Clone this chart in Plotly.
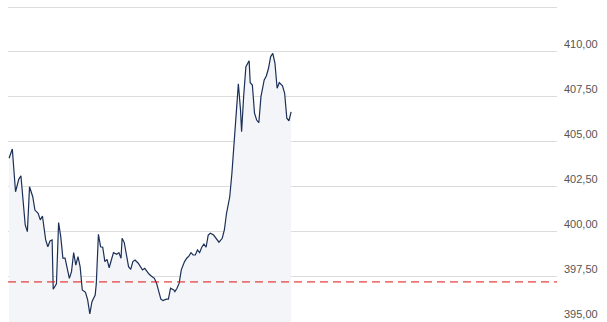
import plotly.graph_objects as go

# minutes since session open
minutes = [1, 4, 7, 10, 12, 14, 16, 18, 20, 23, 25, 28, 30, 32, 35, 37, 39, 41, 42, 45,
           47, 49, 51, 53, 57, 59, 61, 63, 65, 67, 69, 72, 74, 76, 78, 81, 82, 84, 86, 88,
           90, 92, 94, 96, 98, 101, 103, 105, 106, 108, 110, 112, 114, 116, 118, 121, 123, 125, 127, 129,
           131, 133, 136, 138, 140, 142, 144, 147, 149, 151, 154, 155, 157, 159, 161, 164, 166, 168, 170, 172,
           174, 176, 178, 180, 182, 184, 186, 188, 191, 193, 196, 199, 201, 203, 206, 208, 210, 212, 214, 216,
           217, 219, 221, 224, 225, 227, 229, 231, 233, 235, 238, 240, 242, 244, 246, 248, 250, 252, 255, 257,
           259, 261, 263]
prices = [404.08, 404.60, 402.22, 402.91, 403.11, 401.58, 400.37, 400.00, 402.50, 401.94,
          401.20, 401.02, 400.65, 400.87, 399.54, 399.16, 399.48, 399.54, 396.79, 397.09,
          400.50, 399.72, 398.52, 398.52, 397.40, 397.77, 398.83, 398.14, 398.61, 398.05,
          396.75, 396.62, 396.20, 395.42, 396.10, 396.47, 397.09, 399.85, 399.16, 399.13,
          398.33, 398.46, 397.99, 398.42, 398.83, 398.74, 398.83, 398.52, 399.63, 399.39,
          398.64, 398.05, 397.90, 398.33, 398.42, 398.24, 398.05, 397.87, 397.96, 397.77,
          397.64, 397.53, 397.40, 397.13, 396.75, 396.24, 396.16, 396.24, 396.24, 396.85,
          396.75, 396.66, 396.85, 397.13, 397.87, 398.33, 398.52, 398.64, 398.83, 398.70,
          398.70, 398.98, 398.83, 399.13, 399.31, 399.13, 399.81, 399.91, 399.81, 399.63,
          399.41, 399.63, 400.09, 401.02, 401.94, 403.25, 404.92, 406.59, 408.22, 406.77,
          405.56, 407.60, 409.18, 409.51, 408.29, 408.16, 406.59, 406.21, 406.06, 407.51,
          408.44, 408.66, 409.09, 409.74, 409.92, 409.37, 407.98, 408.29, 408.11, 407.70,
          406.31, 406.17, 406.67]

session_minutes = [0, 510]
prev_close = 397.2
tick_values = [395, 397.5, 400, 402.5, 405, 407.5, 410, 412.5]
tick_labels = ["395,00", "397,50", "400,00", "402,50", "405,00", "407,50", "410,00", ""]

fig = go.Figure()
fig.add_trace(go.Scatter(
    x=minutes, y=prices, mode="lines",
    line=dict(color="#1b2f57", width=1.2),
    fill="tozeroy", fillcolor="#f4f5f8",
    hoverinfo="skip", showlegend=False,
))
fig.add_shape(type="line", xref="paper", yref="y", x0=0, x1=1, y0=prev_close, y1=prev_close,
              line=dict(color="#e01010", width=1, dash="8px,5px"), layer="above")

fig.update_layout(
    width=607, height=322,
    margin=dict(l=8, r=50, t=0, b=0),
    paper_bgcolor="white", plot_bgcolor="white",
    separators=",.",
    font=dict(family="Liberation Sans, Arial, sans-serif", size=11, color="#555555"),
    xaxis=dict(range=session_minutes, showgrid=False, zeroline=False, showticklabels=False,
               showline=False, fixedrange=True),
    yaxis=dict(range=[394.97, 412.89], side="right", tickvals=tick_values, ticktext=tick_labels,
               ticklabelposition="outside top", gridcolor="#dcdcdc", gridwidth=1,
               zeroline=False, showline=False, ticks="", ticklabelstandoff=6,
               tickfont=dict(size=11, color="#555555")),
)
fig.write_html("out.html")
